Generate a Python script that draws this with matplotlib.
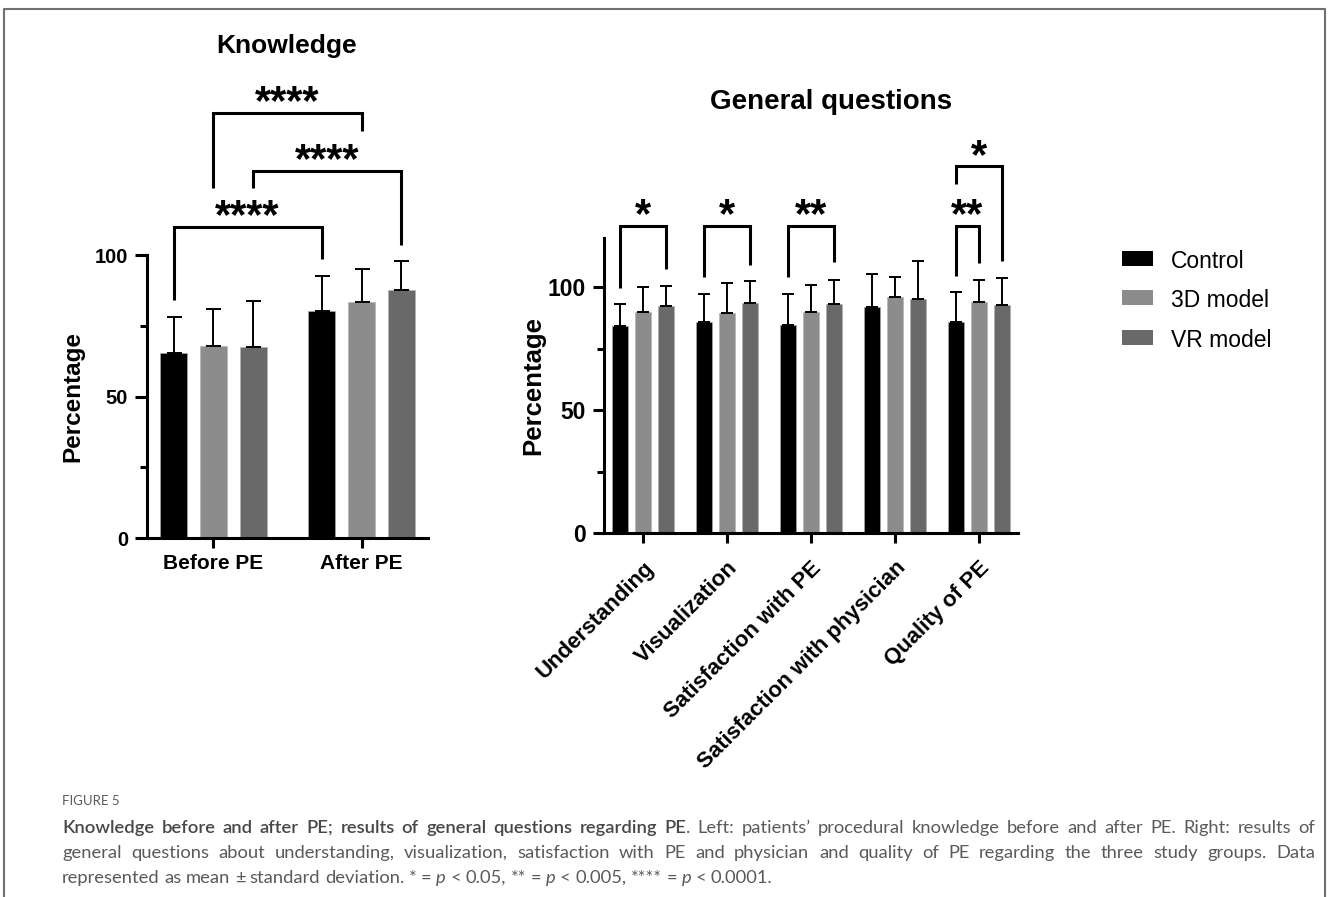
import numpy as np
import matplotlib
matplotlib.use("Agg")
import matplotlib.pyplot as plt
from matplotlib.patches import Rectangle
from matplotlib.lines import Line2D
from matplotlib import font_manager

plt.rcParams['font.family'] = ['Liberation Sans', 'DejaVu Sans']
plt.rcParams['font.weight'] = 'bold'

# ---------------- data ----------------
groups = ["Control", "3D model", "VR model"]
colors = ["#000000", "#8c8c8c", "#696969"]

# Knowledge (left)
know_cats = ["Before PE", "After PE"]
know_control = [65.4, 80.2]
know_3d = [67.8, 83.4]
know_vr = [67.5, 87.6]
know_sd_control = [12.7, 12.4]
know_sd_3d = [13.1, 11.6]
know_sd_vr = [16.2, 10.3]

# General questions (right)
gen_cats = ["Understanding", "Visualization", "Satisfaction with PE",
            "Satisfaction with physician", "Quality of PE"]
gen_control = [84.3, 85.9, 84.6, 92.0, 86.0]
gen_3d = [89.7, 89.6, 89.8, 96.2, 93.9]
gen_vr = [92.3, 93.4, 93.1, 95.3, 92.8]
gen_sd_control = [8.7, 11.5, 12.8, 13.3, 12.1]
gen_sd_3d = [10.4, 12.2, 10.9, 8.0, 9.2]
gen_sd_vr = [8.2, 9.0, 9.7, 15.4, 11.1]

# significance brackets: (cat1, grp1, cat2, grp2, label)
know_sig = [(0, 0, 1, 0, "****"), (0, 2, 1, 2, "****"), (0, 1, 1, 1, "****")]
gen_sig = [(0, 0, 0, 2, "*"), (1, 0, 1, 2, "*"), (2, 0, 2, 2, "**"),
           (4, 0, 4, 1, "**"), (4, 0, 4, 2, "*")]
# bracket heights (line, left leg end, right leg end)
know_sig_y = [(109.9, 84.1, 98.6), (129.7, 123.7, 103.5), (150.2, 123.7, 143.8)]
gen_sig_y = [(124.9, 99.5, 107.2), (124.9, 104.2, 108.9), (124.9, 104.2, 110.1),
             (124.9, 104.6, 109.9), (149.2, 142.1, 110.7)]

W, H = 1328, 897
fig = plt.figure(figsize=(W / 100, H / 100), dpi=100)


def px_axes(l, r, top, bottom):
    return fig.add_axes([l / W, 1 - bottom / H, (r - l) / W, (bottom - top) / H])


def draw_panel(ax, cats, means, sds, off, width, capsize, sig, sig_y, star_off):
    n = len(cats)
    x = np.arange(n)
    for j in range(3):
        xj = x + (j - 1) * off
        ax.bar(xj, means[j], width, color=colors[j], edgecolor="#b0b0b0",
               linewidth=0.4, zorder=2)
        ax.errorbar(xj, means[j], yerr=[np.zeros(n), sds[j]], fmt="none",
                    ecolor="black", elinewidth=1.4, capsize=capsize,
                    capthick=1.4, zorder=3)
    for (c1, g1, c2, g2, lab), (yl, l1, l2) in zip(sig, sig_y):
        x1 = c1 + (g1 - 1) * off
        x2 = c2 + (g2 - 1) * off
        ax.plot([x1, x1, x2, x2], [l1, yl, yl, l2], color="black", lw=2.2,
                clip_on=False, solid_joinstyle="miter", solid_capstyle="butt")
        ax.annotate(lab, xy=((x1 + x2) / 2, yl), xytext=(0, star_off),
                    textcoords="offset points", ha="center", va="baseline",
                    fontsize=30, fontweight="bold", annotation_clip=False)
    for s in ["top", "right"]:
        ax.spines[s].set_visible(False)
    for s in ["left", "bottom"]:
        ax.spines[s].set_linewidth(2.2)
    ax.set_xticks(x)


# ---------------- left panel ----------------
axL = px_axes(147, 428, 255, 538)
draw_panel(axL, know_cats, [know_control, know_3d, know_vr],
           [know_sd_control, know_sd_3d, know_sd_vr], 0.27, 0.182, 5.4,
           know_sig, know_sig_y, -1)
axL.set_xlim(-0.449, 1.449)
axL.set_ylim(0, 100)
axL.set_yticks([0, 50, 100])
axL.set_yticks([25, 75], minor=True)
axL.set_xticklabels(know_cats)
axL.tick_params(axis="y", which="major", length=8.6, width=2.2, labelsize=14.5, pad=5)
axL.tick_params(axis="y", which="minor", length=5, width=2.2)
axL.tick_params(axis="x", length=7.5, width=2.2, labelsize=15, pad=4)
axL.set_ylabel("Percentage", fontsize=17.5, fontweight="bold", labelpad=7.5)
fig.text(287 / W, 1 - 46 / H, "Knowledge", fontsize=19, fontweight="bold",
         ha="center", va="center")

# ---------------- right panel ----------------
axR = px_axes(604, 1018, 238, 533)
draw_panel(axR, gen_cats, [gen_control, gen_3d, gen_vr],
           [gen_sd_control, gen_sd_3d, gen_sd_vr], 0.274, 0.18, 4.3,
           gen_sig, gen_sig_y, -1)
axR.set_xlim(-0.464, 4.464)
axR.set_ylim(0, 120)
axR.set_yticks([0, 50, 100])
axR.set_yticks([25, 75], minor=True)
axR.set_xticklabels(gen_cats, rotation=45, ha="right", va="top",
                    rotation_mode="anchor")
axR.tick_params(axis="y", which="major", length=8, width=2.2, labelsize=16.5, pad=5)
axR.tick_params(axis="y", which="minor", length=5, width=2.2)
axR.tick_params(axis="x", length=7.5, width=2.2, labelsize=16, pad=10)
axR.set_ylabel("Percentage", fontsize=18.5, fontweight="bold", labelpad=2)
fig.text(831 / W, 1 - 102 / H, "General questions", fontsize=20,
         fontweight="bold", ha="center", va="center")

# ---------------- legend ----------------
leg_y = [259, 298, 338]
for g, c, yy in zip(groups, colors, leg_y):
    fig.add_artist(Rectangle((1122 / W, 1 - (yy + 7.5) / H), 31 / W, 15 / H,
                             transform=fig.transFigure, color=c, lw=0))
    fig.text(1171 / W, 1 - yy / H, g, fontsize=16.5, fontweight="normal",
             ha="left", va="center_baseline")

# ---------------- frame ----------------
fc = "#707070"
fig.add_artist(Line2D([4 / W, 4 / W, 1325 / W, 1325 / W],
                      [0, 1 - 9 / H, 1 - 9 / H, 0], color=fc, lw=1.5,
                      transform=fig.transFigure))

# ---------------- caption ----------------
installed = {f.name for f in font_manager.fontManager.ttflist}
cap_fam = [f for f in ["Liberation Sans Narrow", "Lato", "DejaVu Sans"] if f in installed]
cap_size = 13.2
renderer = fig.canvas.get_renderer()


def words(s, kind):
    return [[(w, kind)] for w in s.split()]


styles = {"b": dict(fontweight=600, fontstyle="normal", color="#474747"),
          "r": dict(fontweight="normal", fontstyle="normal", color="#5a5a5a"),
          "i": dict(fontweight="normal", fontstyle="italic", color="#5a5a5a")}


def place_line(wlist, base_y, justify, x0=62, x1=1315):
    arts = []
    widths = []
    for w in wlist:
        ww = 0
        items = []
        for txt, kind in w:
            t = fig.text(0, 0, txt, fontsize=cap_size, family=cap_fam,
                         ha="left", va="baseline", **styles[kind])
            wd = t.get_window_extent(renderer).width
            items.append((t, wd))
            ww += wd
        arts.append(items)
        widths.append(ww)
    sp = fig.text(0, 0, "a a", fontsize=cap_size, family=cap_fam)
    sp2 = fig.text(0, 0, "aa", fontsize=cap_size, family=cap_fam)
    space = sp.get_window_extent(renderer).width - sp2.get_window_extent(renderer).width
    sp.remove()
    sp2.remove()
    if justify:
        gap = (x1 - x0 - sum(widths)) / (len(wlist) - 1)
    else:
        gap = space
    x = x0
    for items, ww in zip(arts, widths):
        xx = x
        for t, wd in items:
            t.set_position((xx / W, 1 - base_y / H))
            xx += wd
        x += ww + gap


fig.text(62 / W, 1 - 805 / H, "FIGURE 5", fontsize=9.5, family=cap_fam,
         fontweight="normal", color="#5a5a5a", ha="left", va="baseline")

line1 = (words("Knowledge before and after PE; results of general questions regarding", "b")
         + [[("PE", "b"), (".", "r")]]
         + words("Left: patients\u2019 procedural knowledge before and after PE. Right: results of", "r"))
line2 = words("general questions about understanding, visualization, satisfaction with PE "
              "and physician and quality of PE regarding the three study groups. Data", "r")
line3 = (words("represented as mean \u00b1 standard deviation. * =", "r") + [[("p", "i")]]
         + words("< 0.05, ** =", "r") + [[("p", "i")]]
         + words("< 0.005, **** =", "r") + [[("p", "i")]]
         + words("< 0.0001.", "r"))

place_line(line1, 833, True)
place_line(line2, 858, True)
place_line(line3, 883, False)

fig.savefig("out.png", dpi=100)
